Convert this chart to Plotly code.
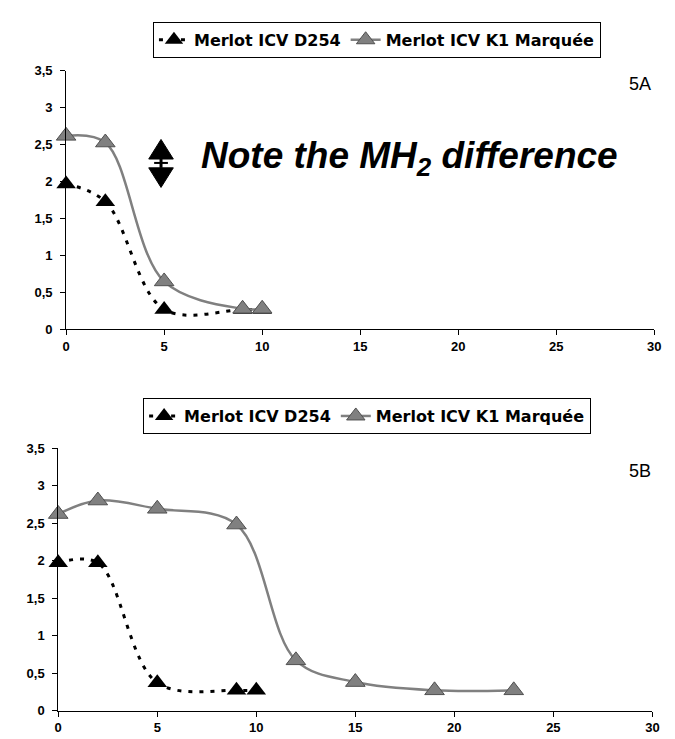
import plotly.graph_objects as go

# ---- data ----
series_names = ["Merlot ICV D254", "Merlot ICV K1 Marquée"]

a_d254_x = [0, 2, 5, 9, 10]
a_d254_y = [1.97, 1.73, 0.27, 0.27, 0.27]
a_k1_x = [0, 2, 5, 9, 10]
a_k1_y = [2.62, 2.53, 0.65, 0.28, 0.28]

b_d254_x = [0, 2, 5, 9, 10]
b_d254_y = [1.97, 1.97, 0.37, 0.27, 0.27]
b_k1_x = [0, 2, 5, 9, 12, 15, 19, 23]
b_k1_y = [2.62, 2.80, 2.69, 2.48, 0.67, 0.38, 0.27, 0.27]

x_ticks = [0, 5, 10, 15, 20, 25, 30]
y_ticks = [0, 0.5, 1, 1.5, 2, 2.5, 3, 3.5]
panel_labels = ["5A", "5B"]

BOLD = "Liberation Sans, Arial, sans-serif"
WIDE = "DejaVu Sans, Liberation Sans, sans-serif"
GRAY = "#808080"
W, H = 675, 739

def px(x):
    return x / W

def py(y):
    return 1 - y / H

fig = go.Figure()

def add_pair(xs1, ys1, xs2, ys2, xa, ya, leg):
    fig.add_trace(go.Scatter(
        x=xs1, y=ys1, name=series_names[0], mode="lines+markers",
        line=dict(color="black", width=3, dash="4px,7px", shape="spline", smoothing=1),
        marker=dict(symbol="triangle-up", size=17, color="black"),
        xaxis=xa, yaxis=ya, legend=leg, cliponaxis=False))
    fig.add_trace(go.Scatter(
        x=xs2, y=ys2, name=series_names[1], mode="lines+markers",
        line=dict(color=GRAY, width=2.5, shape="spline", smoothing=1),
        marker=dict(symbol="triangle-up", size=17, color=GRAY,
                    line=dict(color="#505050", width=1)),
        xaxis=xa, yaxis=ya, legend=leg, cliponaxis=False))

add_pair(a_d254_x, a_d254_y, a_k1_x, a_k1_y, "x", "y", "legend")
add_pair(b_d254_x, b_d254_y, b_k1_x, b_k1_y, "x2", "y2", "legend2")

axis_common = dict(showgrid=False, zeroline=False, showline=True, linecolor="black",
                   linewidth=1, ticks="outside", ticklen=5, tickcolor="black",
                   tickfont=dict(family=BOLD, size=13, color="black", weight="bold"))

leg_common = dict(orientation="h", xanchor="center", yanchor="top",
                  bordercolor="black", borderwidth=1, bgcolor="white",
                  font=dict(family=WIDE, size=16, color="black", weight="bold"),
                  itemwidth=30, tracegroupgap=0)

fig.update_layout(
    width=W, height=H, autosize=False,
    margin=dict(l=0, r=0, t=0, b=0),
    paper_bgcolor="white", plot_bgcolor="white",
    separators=", ",
    xaxis=dict(domain=[px(55), px(653)], range=[0, 30], tickvals=x_ticks, anchor="y", **axis_common),
    yaxis=dict(domain=[py(321), py(57)], range=[0, 3.5], tickvals=y_ticks, anchor="x",
               ticklabelstandoff=5, **axis_common),
    xaxis2=dict(domain=[px(47), px(651)], range=[0, 30], tickvals=x_ticks, anchor="y2", **axis_common),
    yaxis2=dict(domain=[py(710), py(442)], range=[0, 3.5], tickvals=y_ticks, anchor="x2",
                ticklabelstandoff=5, **axis_common),
    legend=dict(x=px(371), y=py(7), **leg_common),
    legend2=dict(x=px(361), y=py(391), **leg_common),
)

for lab, yy in zip(panel_labels, [70, 465]):
    fig.add_annotation(text=lab, xref="paper", yref="paper", x=px(625), y=py(yy),
                       xanchor="left", yanchor="middle", showarrow=False,
                       font=dict(family="Liberation Sans Narrow, Arial Narrow, sans-serif",
                                 size=18, color="black"))

# note text
fig.add_annotation(text="<i><b>Note the MH<sub>2</sub> difference</b></i>", xref="paper", yref="paper",
                   x=px(190), y=py(146), xanchor="left", yanchor="middle", showarrow=False,
                   font=dict(family=BOLD, size=37, color="black"))

# double arrow drawn as shapes
cx = 151.5
def tri(apex_y, base_y, half):
    return (f"M {px(cx)},{py(apex_y)} L {px(cx-half)},{py(base_y)} "
            f"L {px(cx+half)},{py(base_y)} Z")

fig.add_shape(type="path", xref="paper", yref="paper", path=tri(127, 147, 12.5),
              fillcolor="black", line=dict(color="black", width=1))
fig.add_shape(type="path", xref="paper", yref="paper", path=tri(176, 156, 12.5),
              fillcolor="black", line=dict(color="black", width=1))
fig.add_shape(type="line", xref="paper", yref="paper", x0=px(cx), x1=px(cx),
              y0=py(147), y1=py(156), line=dict(color="black", width=3))
fig.add_shape(type="line", xref="paper", yref="paper", x0=px(cx-7), x1=px(cx+7),
              y0=py(151), y1=py(151), line=dict(color="black", width=2))

fig.write_html("out.html")
